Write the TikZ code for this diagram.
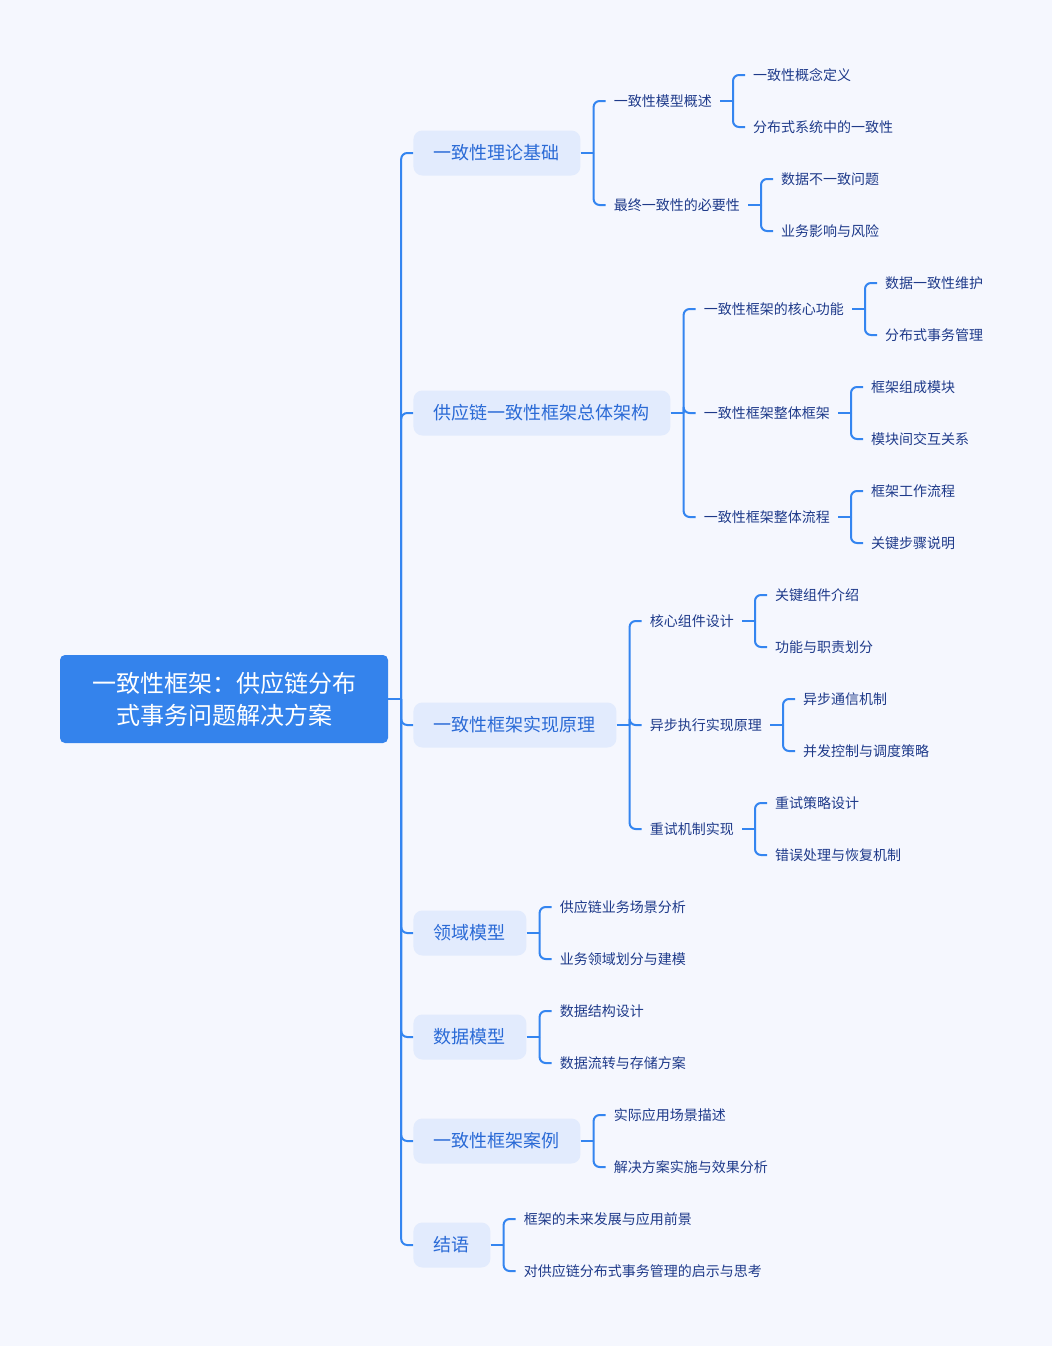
\documentclass[tikz,border=0pt]{standalone}
\usepackage{fontspec}
\setmainfont{Noto Sans CJK SC}
\usepackage{xcolor}
\usepackage{tikz}
\usetikzlibrary{positioning}
\definecolor{bg}{HTML}{F5F7FE}
\definecolor{rootblue}{HTML}{3483EC}
\definecolor{topicfill}{HTML}{E2EBFD}
\definecolor{topictext}{HTML}{2A6AD6}
\definecolor{leaftext}{HTML}{1E3A8A}
\definecolor{linkblue}{HTML}{3485F0}
\tikzstyle{rootbox} = [rectangle, fill=rootblue, text=white, rounded corners=5pt,
    minimum width=328pt, minimum height=88pt, align=center,
    font=\fontsize{24pt}{32pt}\selectfont]
\tikzstyle{topic} = [rectangle, fill=topicfill, text=topictext, rounded corners=9pt,
    inner xsep=20.5pt, minimum height=45pt, font=\fontsize{18pt}{22pt}\selectfont]
\tikzstyle{leaf} = [inner xsep=8pt, inner ysep=3pt, text=leaftext,
    font=\fontsize{14pt}{17pt}\selectfont]
\tikzstyle{stub} = [draw=linkblue, line width=2pt]
\tikzstyle{branch} = [draw=linkblue, line width=2pt, rounded corners=6pt]

\begin{document}
\begin{tikzpicture}
  \path [fill=bg, use as bounding box] (0,0) rectangle (1052pt,-1346pt);

  % Root
  \node [rootbox] (rootnode) at (224pt,-699pt) {一致性框架：供应链分布\\式事务问题解决方案};

  % First level
  \node [topic, right=25pt of rootnode, yshift=546pt] (b1) {一致性理论基础};
  \node [topic, right=25pt of rootnode, yshift=286pt] (b2) {供应链一致性框架总体架构};
  \node [topic, right=25pt of rootnode, yshift=-26pt] (b3) {一致性框架实现原理};
  \node [topic, right=25pt of rootnode, yshift=-234pt] (b4) {领域模型};
  \node [topic, right=25pt of rootnode, yshift=-338pt] (b5) {数据模型};
  \node [topic, right=25pt of rootnode, yshift=-442pt] (b6) {一致性框架案例};
  \node [topic, right=25pt of rootnode, yshift=-546pt] (b7) {结语};

  % Second level
  \node [leaf, right=25pt of b1, yshift=52pt] (b1a) {一致性模型概述};
  \node [leaf, right=25pt of b1, yshift=-52pt] (b1b) {最终一致性的必要性};

  \node [leaf, right=25pt of b2, yshift=104pt] (b2a) {一致性框架的核心功能};
  \node [leaf, right=25pt of b2] (b2b) {一致性框架整体框架};
  \node [leaf, right=25pt of b2, yshift=-104pt] (b2c) {一致性框架整体流程};

  \node [leaf, right=25pt of b3, yshift=104pt] (b3a) {核心组件设计};
  \node [leaf, right=25pt of b3] (b3b) {异步执行实现原理};
  \node [leaf, right=25pt of b3, yshift=-104pt] (b3c) {重试机制实现};

  \node [leaf, right=25pt of b4, yshift=26pt] (b4a) {供应链业务场景分析};
  \node [leaf, right=25pt of b4, yshift=-26pt] (b4b) {业务领域划分与建模};

  \node [leaf, right=25pt of b5, yshift=26pt] (b5a) {数据结构设计};
  \node [leaf, right=25pt of b5, yshift=-26pt] (b5b) {数据流转与存储方案};

  \node [leaf, right=25pt of b6, yshift=26pt] (b6a) {实际应用场景描述};
  \node [leaf, right=25pt of b6, yshift=-26pt] (b6b) {解决方案实施与效果分析};

  \node [leaf, right=25pt of b7, yshift=26pt] (b7a) {框架的未来发展与应用前景};
  \node [leaf, right=25pt of b7, yshift=-26pt] (b7b) {对供应链分布式事务管理的启示与思考};

  % Third level
  \node [leaf, right=25pt of b1a, yshift=26pt] (b1a1) {一致性概念定义};
  \node [leaf, right=25pt of b1a, yshift=-26pt] (b1a2) {分布式系统中的一致性};
  \node [leaf, right=25pt of b1b, yshift=26pt] (b1b1) {数据不一致问题};
  \node [leaf, right=25pt of b1b, yshift=-26pt] (b1b2) {业务影响与风险};

  \node [leaf, right=25pt of b2a, yshift=26pt] (b2a1) {数据一致性维护};
  \node [leaf, right=25pt of b2a, yshift=-26pt] (b2a2) {分布式事务管理};
  \node [leaf, right=25pt of b2b, yshift=26pt] (b2b1) {框架组成模块};
  \node [leaf, right=25pt of b2b, yshift=-26pt] (b2b2) {模块间交互关系};
  \node [leaf, right=25pt of b2c, yshift=26pt] (b2c1) {框架工作流程};
  \node [leaf, right=25pt of b2c, yshift=-26pt] (b2c2) {关键步骤说明};

  \node [leaf, right=25pt of b3a, yshift=26pt] (b3a1) {关键组件介绍};
  \node [leaf, right=25pt of b3a, yshift=-26pt] (b3a2) {功能与职责划分};
  \node [leaf, right=25pt of b3b, yshift=26pt] (b3b1) {异步通信机制};
  \node [leaf, right=25pt of b3b, yshift=-26pt] (b3b2) {并发控制与调度策略};
  \node [leaf, right=25pt of b3c, yshift=26pt] (b3c1) {重试策略设计};
  \node [leaf, right=25pt of b3c, yshift=-26pt] (b3c2) {错误处理与恢复机制};

  % Connectors
  \path [stub] (rootnode.east) -- ++(13pt,0) coordinate (rj);
  \path [branch] (rj) |- (b1.west);
  \path [branch] (rj) |- (b2.west);
  \path [branch] (rj) |- (b3.west);
  \path [branch] (rj) |- (b4.west);
  \path [branch] (rj) |- (b5.west);
  \path [branch] (rj) |- (b6.west);
  \path [branch] (rj) |- (b7.west);

  \path [stub] (b1.east) -- ++(13pt,0) coordinate (j1);
  \path [branch] (j1) |- (b1a.west);
  \path [branch] (j1) |- (b1b.west);
  \path [stub] (b2.east) -- ++(13pt,0) coordinate (j2);
  \path [branch] (j2) |- (b2a.west);
  \path [branch] (j2) |- (b2b.west);
  \path [branch] (j2) |- (b2c.west);
  \path [stub] (b3.east) -- ++(13pt,0) coordinate (j3);
  \path [branch] (j3) |- (b3a.west);
  \path [branch] (j3) |- (b3b.west);
  \path [branch] (j3) |- (b3c.west);
  \path [stub] (b4.east) -- ++(13pt,0) coordinate (j4);
  \path [branch] (j4) |- (b4a.west);
  \path [branch] (j4) |- (b4b.west);
  \path [stub] (b5.east) -- ++(13pt,0) coordinate (j5);
  \path [branch] (j5) |- (b5a.west);
  \path [branch] (j5) |- (b5b.west);
  \path [stub] (b6.east) -- ++(13pt,0) coordinate (j6);
  \path [branch] (j6) |- (b6a.west);
  \path [branch] (j6) |- (b6b.west);
  \path [stub] (b7.east) -- ++(13pt,0) coordinate (j7);
  \path [branch] (j7) |- (b7a.west);
  \path [branch] (j7) |- (b7b.west);

  \path [stub] (b1a.east) -- ++(13pt,0) coordinate (j1a);
  \path [branch] (j1a) |- (b1a1.west);
  \path [branch] (j1a) |- (b1a2.west);
  \path [stub] (b1b.east) -- ++(13pt,0) coordinate (j1b);
  \path [branch] (j1b) |- (b1b1.west);
  \path [branch] (j1b) |- (b1b2.west);

  \path [stub] (b2a.east) -- ++(13pt,0) coordinate (j2a);
  \path [branch] (j2a) |- (b2a1.west);
  \path [branch] (j2a) |- (b2a2.west);
  \path [stub] (b2b.east) -- ++(13pt,0) coordinate (j2b);
  \path [branch] (j2b) |- (b2b1.west);
  \path [branch] (j2b) |- (b2b2.west);
  \path [stub] (b2c.east) -- ++(13pt,0) coordinate (j2c);
  \path [branch] (j2c) |- (b2c1.west);
  \path [branch] (j2c) |- (b2c2.west);

  \path [stub] (b3a.east) -- ++(13pt,0) coordinate (j3a);
  \path [branch] (j3a) |- (b3a1.west);
  \path [branch] (j3a) |- (b3a2.west);
  \path [stub] (b3b.east) -- ++(13pt,0) coordinate (j3b);
  \path [branch] (j3b) |- (b3b1.west);
  \path [branch] (j3b) |- (b3b2.west);
  \path [stub] (b3c.east) -- ++(13pt,0) coordinate (j3c);
  \path [branch] (j3c) |- (b3c1.west);
  \path [branch] (j3c) |- (b3c2.west);

\end{tikzpicture}
\end{document}
